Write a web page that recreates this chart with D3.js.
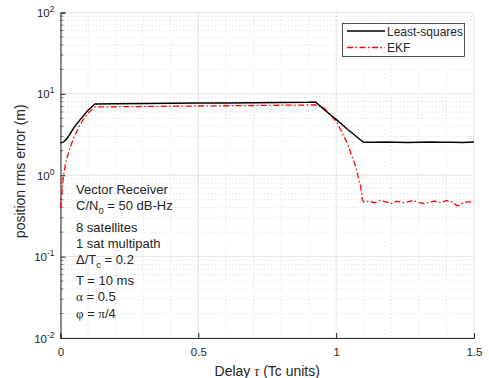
<!DOCTYPE html>
<html>
<head>
<meta charset="utf-8">
<script src="https://cdn.jsdelivr.net/npm/d3@7"></script>
<style>
  body { margin: 0; background: #fff; }
  svg { font-family: "Liberation Sans", Arial, sans-serif; }
</style>
</head>
<body>
<div id="chart"></div>
<script>
"use strict";

// delay values (Tc units) and rms errors (m)
const tauLS = [0, 0.01, 0.02, 0.03, 0.05, 0.075, 0.1, 0.125, 0.2, 0.3, 0.4, 0.5, 0.6, 0.7, 0.8, 0.9, 0.925,
    0.95, 0.98, 1.0, 1.04, 1.07, 1.095, 1.1, 1.14, 1.18, 1.22, 1.26, 1.3, 1.34, 1.38, 1.42, 1.46, 1.5];
const leastSquares = [2.5, 2.55, 2.75, 3.05, 3.9, 5.0, 6.3, 7.5, 7.55, 7.6, 7.65, 7.7, 7.75, 7.8, 7.85, 7.9, 7.95,
    6.7, 5.5, 4.85, 3.7, 3.06, 2.6, 2.55, 2.54, 2.56, 2.55, 2.53, 2.55, 2.56, 2.54, 2.55, 2.53, 2.56];

const tauEKF = [0, 0.005, 0.01, 0.02, 0.035, 0.05, 0.065, 0.08, 0.1, 0.125, 0.2, 0.3, 0.4, 0.5, 0.6, 0.7, 0.8, 0.9,
    0.925, 0.956, 0.98, 1.004, 1.02, 1.04, 1.055, 1.071, 1.08, 1.089, 1.095, 1.1,
    1.12, 1.14, 1.16, 1.18, 1.2, 1.22, 1.24, 1.26, 1.28, 1.3, 1.32, 1.34, 1.36, 1.38, 1.4, 1.42, 1.44, 1.46, 1.48, 1.5];
const ekf = [0.4, 0.6, 0.95, 1.5, 2.2, 3.0, 3.8, 4.7, 5.8, 6.9, 6.95, 7.0, 7.05, 7.1, 7.15, 7.2, 7.25, 7.3,
    7.3, 6.7, 5.5, 4.4, 3.4, 2.5, 1.8, 1.28, 0.95, 0.73, 0.5, 0.47,
    0.48, 0.46, 0.49, 0.47, 0.45, 0.48, 0.46, 0.47, 0.49, 0.46, 0.45, 0.47, 0.48, 0.46, 0.49, 0.47, 0.42, 0.46, 0.47, 0.47];

const xTicks = [0, 0.5, 1, 1.5];
const yExponents = [-2, -1, 0, 1, 2];

const legendNames = ["Least-squares", "EKF"];
// [text, subscript, rest]; greek runs are drawn with a serif face like MATLAB's symbol font
const noteLines = [
    ["Vector Receiver"],
    ["C/N", "0", " = 50 dB-Hz"],
    ["8 satellites"],
    ["1 sat multipath"],
    ["\u0394/T", "c", " = 0.2"],
    ["T = 10 ms"],
    ["\u03b1", null, " = 0.5"],
    ["\u03c6", null, " = ", "\u03c0", "/4"]
];
const noteY = [189, 205, 227, 243, 259, 280, 296.5, 313];

const msm = { width: 489, height: 378, left: 60.5, right: 474, top: 12.5, bottom: 338 };
const axisColor = "#262626";

const svg = d3.select("#chart").append("svg")
    .attr("width", msm.width)
    .attr("height", msm.height);

const x = d3.scaleLinear().domain([0, 1.5]).range([msm.left, msm.right]);
const y = d3.scaleLog().domain([0.01, 100]).range([msm.bottom, msm.top]);

// minor grid (dotted)
const xMinor = d3.range(1, 15).map(d => d / 10).filter(d => Math.abs(d - 0.5) > 1e-6 && Math.abs(d - 1) > 1e-6);
let yMinor = [];
yExponents.slice(0, -1).forEach(e => {
    for (let k = 2; k <= 9; k++) yMinor.push(k * Math.pow(10, e));
});

svg.append("g").selectAll("line").data(xMinor).join("line")
    .attr("x1", d => x(d)).attr("x2", d => x(d))
    .attr("y1", msm.top).attr("y2", msm.bottom)
    .attr("stroke", "#dedede").attr("stroke-width", 0.8).attr("stroke-dasharray", "1.5,2");
svg.append("g").selectAll("line").data(yMinor).join("line")
    .attr("x1", msm.left).attr("x2", msm.right)
    .attr("y1", d => y(d)).attr("y2", d => y(d))
    .attr("stroke", "#dedede").attr("stroke-width", 0.8).attr("stroke-dasharray", "1.5,2");

// major grid
svg.append("g").selectAll("line").data(xTicks).join("line")
    .attr("x1", d => x(d)).attr("x2", d => x(d))
    .attr("y1", msm.top).attr("y2", msm.bottom)
    .attr("stroke", "#e3e3e3").attr("stroke-width", 1);
svg.append("g").selectAll("line").data(yExponents.map(e => Math.pow(10, e))).join("line")
    .attr("x1", msm.left).attr("x2", msm.right)
    .attr("y1", d => y(d)).attr("y2", d => y(d))
    .attr("stroke", "#e3e3e3").attr("stroke-width", 1);

// axes (ticks pointing inward)
const xAxis = d3.axisBottom(x).tickValues(xTicks).tickSize(-5).tickPadding(10)
    .tickFormat(d => d3.format("~g")(d));
const gx = svg.append("g")
    .attr("transform", "translate(0," + msm.bottom + ")")
    .call(xAxis);
gx.selectAll("text").style("font-size", "11.5px").attr("fill", axisColor);

const yAxis = d3.axisLeft(y).tickValues(yExponents.map(e => Math.pow(10, e))).tickSize(-5)
    .tickFormat("");
const gy = svg.append("g")
    .attr("transform", "translate(" + msm.left + ",0)")
    .call(yAxis);
gy.selectAll(".minor").data(yMinor).join("line")
    .attr("class", "minor")
    .attr("x1", 0).attr("x2", 3)
    .attr("y1", d => y(d)).attr("y2", d => y(d))
    .attr("stroke", axisColor).attr("stroke-width", 0.6);

[gx, gy].forEach(g => {
    g.select(".domain").attr("stroke", axisColor);
    g.selectAll(".tick line").attr("stroke", axisColor);
});

// y tick labels as 10^e
const yLabels = svg.append("g").selectAll("text").data(yExponents).join("text")
    .attr("x", msm.left - 6)
    .attr("y", d => y(Math.pow(10, d)) + 4.5)
    .attr("text-anchor", "end")
    .attr("fill", axisColor)
    .style("font-size", "11.5px");
yLabels.append("tspan").text("10");
yLabels.append("tspan").attr("dy", -5).style("font-size", "8.5px").text(d => d);

// series
const line = d3.line().x(d => x(d[0])).y(d => y(d[1]));

svg.append("path")
    .datum(tauEKF.map((t, i) => [t, ekf[i]]))
    .attr("d", line)
    .attr("fill", "none")
    .attr("stroke", "#ff0000")
    .attr("stroke-width", 1.3)
    .attr("stroke-dasharray", "6,2.5,1.5,2.5");

svg.append("path")
    .datum(tauLS.map((t, i) => [t, leastSquares[i]]))
    .attr("d", line)
    .attr("fill", "none")
    .attr("stroke", "#000")
    .attr("stroke-width", 1.5);

// legend
const legend = svg.append("g");
legend.append("rect")
    .attr("x", 342.5).attr("y", 23.5)
    .attr("width", 122).attr("height", 33)
    .attr("fill", "#fff").attr("stroke", axisColor).attr("stroke-width", 0.8);
const legendStyles = [
    { color: "#000", width: 1.5, dash: null },
    { color: "#ff0000", width: 1.3, dash: "6,2.5,1.5,2.5" }
];
legendNames.forEach((name, i) => {
    const ly = 31 + i * 16.5;
    legend.append("line")
        .attr("x1", 347).attr("x2", 385)
        .attr("y1", ly).attr("y2", ly)
        .attr("stroke", legendStyles[i].color)
        .attr("stroke-width", legendStyles[i].width)
        .attr("stroke-dasharray", legendStyles[i].dash);
    legend.append("text")
        .attr("x", 387).attr("y", ly + 4.5)
        .attr("fill", axisColor)
        .style("font-size", "12px")
        .text(name);
});

// annotation block
const serif = "\"Liberation Serif\", \"Times New Roman\", serif";
noteLines.forEach((parts, i) => {
    const t = svg.append("text")
        .attr("x", 76).attr("y", noteY[i] + 4.5)
        .attr("fill", axisColor)
        .style("font-size", "13px");
    const isGreek = s => /[\u0370-\u03ff]/.test(s) && !s.startsWith("\u0394");
    t.append("tspan").style("font-family", isGreek(parts[0]) ? serif : null).text(parts[0]);
    if (parts[1]) {
        t.append("tspan").attr("dy", 4).style("font-size", "9.5px").text(parts[1]);
        t.append("tspan").attr("dy", -4).text(parts[2]);
    } else if (parts.length > 2) {
        parts.slice(2).forEach(p => {
            t.append("tspan").style("font-family", isGreek(p) ? serif : null).text(p);
        });
    }
});

// axis titles
const xt = svg.append("text")
    .attr("x", (msm.left + msm.right) / 2).attr("y", 375.5)
    .attr("text-anchor", "middle")
    .attr("fill", axisColor)
    .style("font-size", "14px");
xt.append("tspan").text("Delay ");
xt.append("tspan").style("font-family", serif).style("font-style", "italic").text("\u03c4");
xt.append("tspan").text(" (Tc units)");

svg.append("text")
    .attr("transform", "translate(25," + ((msm.top + msm.bottom) / 2 - 4) + ") rotate(-90)")
    .attr("text-anchor", "middle")
    .attr("fill", axisColor)
    .style("font-size", "14px")
    .text("position rms error (m)");
</script>
</body>
</html>
